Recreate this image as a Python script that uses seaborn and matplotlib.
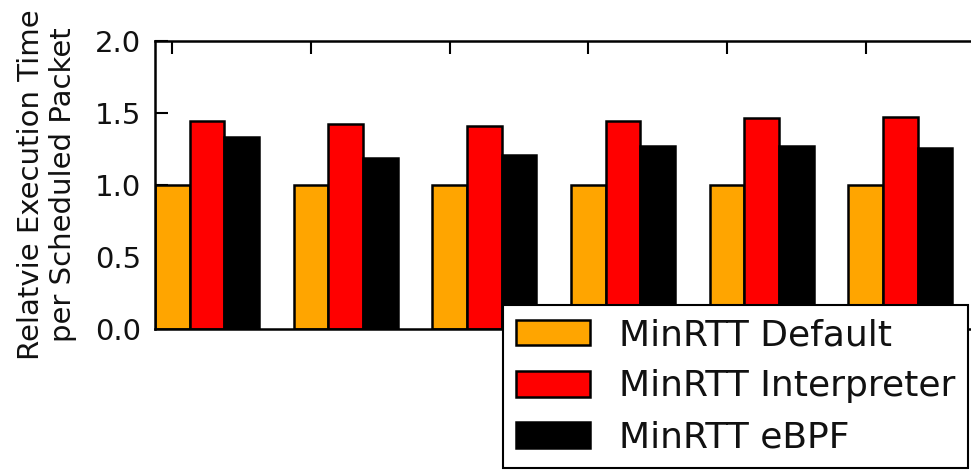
import matplotlib
matplotlib.use("Agg")
import matplotlib.pyplot as plt
import seaborn as sns
import pandas as pd

groups = ["G1", "G2", "G3", "G4", "G5", "G6"]
series = ["MinRTT Default", "MinRTT Interpreter", "MinRTT eBPF"]
default_vals = [1.0, 1.0, 1.0, 1.0, 1.0, 1.0]
interp_vals = [1.444, 1.424, 1.41, 1.447, 1.465, 1.47]
ebpf_vals = [1.333, 1.19, 1.21, 1.27, 1.27, 1.257]
colors = ["#FFA500", "#FF0000", "#000000"]
yticks = [0.0, 0.5, 1.0, 1.5, 2.0]

rows = []
for s, vals in zip(series, [default_vals, interp_vals, ebpf_vals]):
    for g, v in zip(groups, vals):
        rows.append({"group": g, "series": s, "value": v})
df = pd.DataFrame(rows)

sns.set_style("ticks")
plt.rcParams["font.family"] = ["DejaVu Sans"]

W, H = 971, 472
fig = plt.figure(figsize=(W / 100, H / 100), dpi=100)
ax = fig.add_axes([155 / W, 1 - 329 / H, 832 / W, 288 / H])

sns.barplot(data=df, x="group", y="value", hue="series", order=groups,
            hue_order=series, palette=colors, width=0.75, gap=0,
            edgecolor="black", linewidth=1.8, saturation=1, errorbar=None,
            ax=ax)

ax.set_xlim(-0.375, 5.625)
ax.set_ylim(0, 2.0)
ax.set_xticks([i - 0.25 for i in range(len(groups))])
ax.set_xticklabels([])
ax.set_yticks(yticks)
ax.set_yticklabels([f"{t:.1f}" for t in yticks], fontsize=21, color="#111111")
ax.set_xlabel("")
ax.set_ylabel("Relatvie Execution Time\nper Scheduled Packet", fontsize=21,
              color="#111111", linespacing=1.2)
ax.yaxis.set_label_coords((77 - 155) / 832, 0.5)

ax.tick_params(direction="in", length=9, width=1.5, top=True, right=True,
               pad=10, colors="black", labelcolor="#111111")
for sp in ax.spines.values():
    sp.set_visible(True)
    sp.set_linewidth(1.8)
    sp.set_color("black")

ax.get_legend().remove()
leg = fig.legend(*ax.get_legend_handles_labels(), loc="upper left",
                 bbox_to_anchor=(503 / W, 1 - 305 / H),
                 bbox_transform=fig.transFigure, fontsize=26,
                 frameon=True, fancybox=False, framealpha=1,
                 edgecolor="black", handlelength=2.05, handleheight=0.72,
                 handletextpad=0.8, labelspacing=0.48, borderpad=0.36,
                 borderaxespad=0)
leg.get_frame().set_linewidth(1.5)
for t in leg.get_texts():
    t.set_color("#111111")

fig.savefig("out.png", dpi=100)
